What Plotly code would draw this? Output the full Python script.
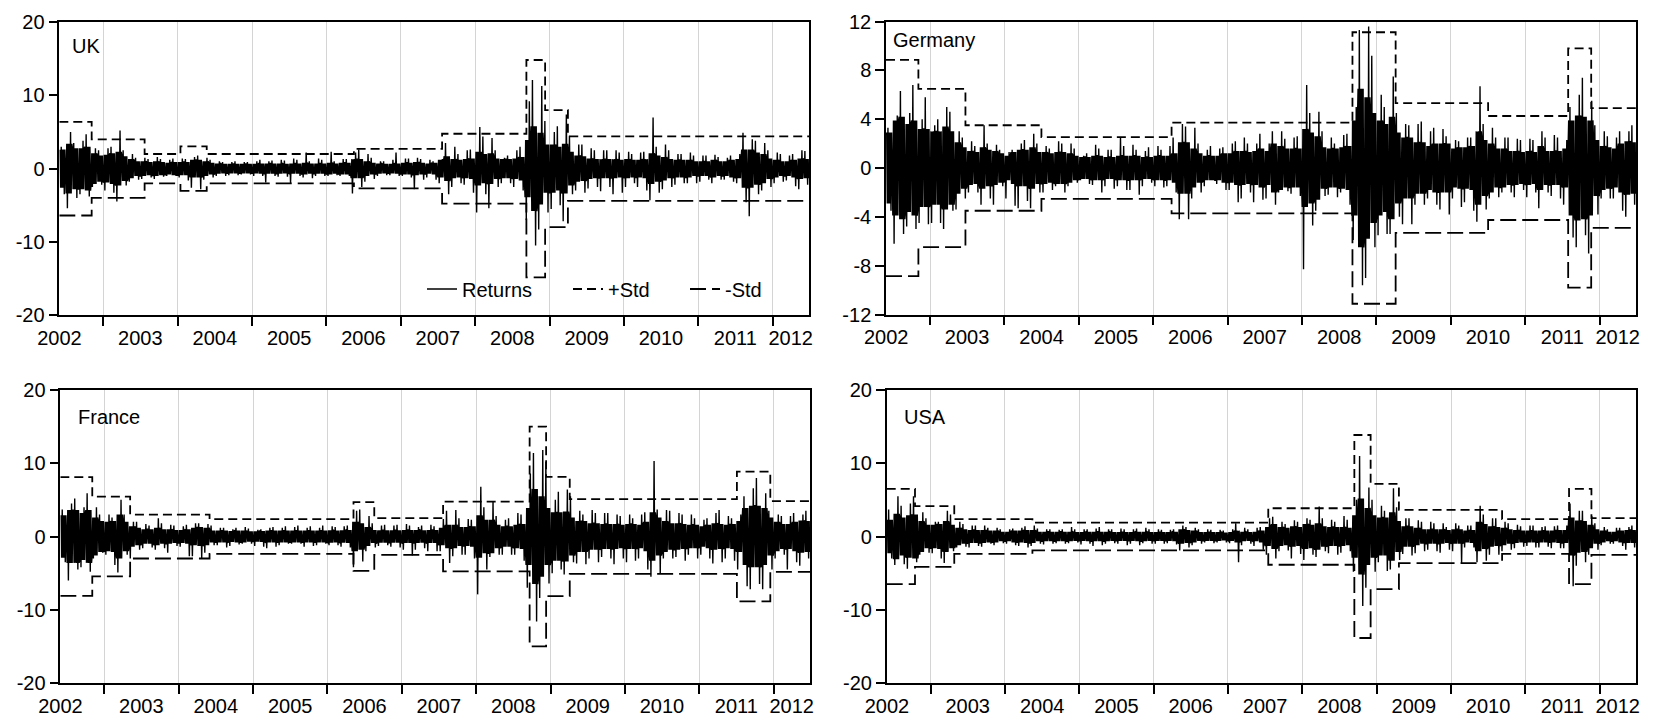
import pandas as pd
import plotly.graph_objects as go

# ---------------- data ----------------
START = "2002-05-30"
END = "2012-06-28"
MONTHS = pd.date_range("2002-06-01", "2012-06-01", freq="MS")  # Jun 2002 .. Jun 2012 (121)
YEARS = [str(y) for y in range(2002, 2013)]

# monthly extreme high / extreme low / typical daily half-range of returns (%)
UK_HI = [3.0, 5.0, 3.5, 3.8, 4.7, 2.8, 2.5,
         2.8, 3.0, 5.2, 2.5, 2.0, 1.5, 1.5, 1.3, 1.6, 1.3, 1.2, 1.4,
         1.4, 1.3, 1.6, 1.8, 1.5, 1.2, 1.0, 0.9, 0.9, 1.0, 0.9, 0.9,
         1.0, 1.2, 1.0, 1.1, 1.2, 1.1, 1.4, 1.2, 2.2, 1.0, 1.4, 1.2,
         2.3, 1.0, 1.3, 1.3, 2.2, 2.6, 2.0, 1.5, 1.0, 1.0, 1.2, 2.2,
         1.4, 1.4, 1.5, 1.3, 1.2, 1.0, 1.3, 3.5, 3.0, 2.0, 2.5, 2.6,
         5.7, 4.4, 4.2, 2.5, 1.5, 1.8, 2.5, 3.0, 9.2, 12.1, 11.3, 6.5,
         5.0, 5.8, 7.4, 4.5, 3.3, 3.3, 2.8, 2.5, 2.5, 2.5, 2.5, 2.2,
         2.3, 2.0, 2.2, 2.3, 7.0, 3.0, 3.3, 2.5, 2.0, 2.0, 2.2, 1.8,
         1.8, 1.8, 1.9, 1.6, 1.5, 1.8, 2.0, 4.9, 4.0, 3.8, 3.5, 2.5,
         2.2, 2.0, 1.8, 2.0, 2.5, 2.4]
UK_LO = [-3.5, -5.4, -4.0, -3.5, -3.8, -2.5, -2.2,
         -3.0, -3.3, -4.5, -2.3, -1.8, -1.5, -1.4, -1.2, -1.4, -1.1, -1.0, -1.0,
         -1.2, -1.6, -2.6, -2.8, -1.5, -1.2, -1.0, -1.0, -0.9, -0.9, -0.8, -0.8,
         -1.0, -1.0, -1.9, -1.0, -1.1, -1.1, -2.0, -1.0, -1.2, -1.3, -1.0, -1.0,
         -1.0, -0.9, -1.0, -1.0, -3.4, -2.5, -1.8, -1.4, -1.0, -0.9, -0.9, -1.0,
         -1.0, -1.2, -2.8, -1.5, -1.2, -1.5, -2.0, -3.5, -2.5, -2.0, -2.2, -3.3,
         -6.0, -3.5, -5.4, -2.5, -2.0, -2.0, -2.5, -3.0, -7.0, -10.5, -8.3, -6.0,
         -5.5, -5.0, -7.2, -3.5, -3.0, -3.3, -2.7, -2.5, -3.1, -2.5, -3.5, -3.3,
         -2.5, -2.0, -2.5, -3.0, -4.3, -3.3, -2.8, -2.5, -2.2, -2.0, -2.0, -2.0,
         -1.8, -1.5, -2.0, -1.5, -1.5, -1.8, -2.0, -4.6, -6.5, -3.5, -3.0, -2.5,
         -2.0, -1.8, -1.6, -2.4, -2.8, -2.2]
UK_CORE = [2.6, 3.4, 2.8, 2.8, 3.0, 2.1, 1.8,
           1.9, 2.1, 2.3, 1.7, 1.3, 1.0, 1.0, 0.9, 1.0, 0.9, 0.8, 0.9,
           0.9, 0.9, 1.2, 1.2, 1.0, 0.8, 0.7, 0.65, 0.65, 0.65, 0.65, 0.65,
           0.65, 0.7, 0.7, 0.7, 0.7, 0.65, 0.7, 0.7, 0.8, 0.7, 0.7, 0.7,
           0.8, 0.7, 0.8, 0.8, 1.3, 1.3, 1.0, 0.8, 0.7, 0.65, 0.65, 0.7,
           0.8, 0.8, 0.9, 0.8, 0.7, 0.8, 1.2, 1.7, 1.3, 1.2, 1.3, 1.4,
           2.3, 2.0, 2.1, 1.4, 1.3, 1.3, 1.4, 1.6, 3.9, 5.8, 4.9, 3.3,
           3.3, 3.0, 3.4, 2.3, 1.8, 1.7, 1.4, 1.3, 1.3, 1.3, 1.3, 1.2,
           1.3, 1.2, 1.2, 1.3, 2.1, 1.8, 1.6, 1.3, 1.2, 1.2, 1.2, 1.0,
           1.0, 1.0, 1.2, 1.0, 1.0, 1.2, 1.3, 2.6, 2.6, 2.2, 2.0, 1.4,
           1.2, 1.0, 1.0, 1.2, 1.4, 1.3]

DE_HI = [3.3, 4.3, 6.3, 4.5, 6.8, 4.0, 5.8,
         3.5, 4.0, 5.0, 4.6, 3.0, 2.5, 2.2, 1.8, 3.5, 2.0, 1.9, 1.5,
         1.3, 1.5, 2.0, 2.3, 2.8, 2.0, 1.8, 1.6, 2.2, 2.0, 2.0, 1.6,
         1.0, 1.2, 1.9, 1.6, 1.5, 1.5, 2.5, 1.8, 1.9, 1.5, 1.4, 1.7,
         1.8, 1.5, 1.8, 2.5, 3.6, 3.4, 3.3, 2.0, 1.5, 1.8, 1.6, 1.7,
         2.0, 2.2, 2.5, 2.0, 2.0, 2.8, 2.0, 3.0, 3.0, 2.4, 2.5, 2.6,
         6.8, 4.5, 4.6, 3.0, 2.5, 2.0, 2.7, 2.8, 5.0, 11.3, 11.6, 9.2,
         6.0, 5.0, 7.5, 4.5, 3.6, 3.5, 3.6, 3.8, 3.0, 3.3, 3.2, 2.6,
         2.3, 2.2, 2.5, 2.5, 6.7, 3.6, 3.3, 2.5, 2.5, 2.5, 2.4, 2.3,
         2.4, 2.3, 3.0, 2.5, 2.7, 2.5, 2.3, 5.0, 6.0, 7.4, 5.5, 3.5,
         3.0, 2.6, 2.5, 3.0, 3.0, 3.5]
DE_LO = [-3.5, -6.2, -5.4, -4.8, -5.0, -4.5, -4.6,
         -4.5, -4.5, -5.0, -3.5, -3.4, -2.5, -2.0, -2.0, -3.0, -2.5, -3.0, -1.5,
         -2.5, -3.1, -3.3, -2.7, -3.3, -2.0, -2.0, -1.8, -1.5, -2.0, -1.5, -1.2,
         -1.0, -1.3, -1.4, -2.0, -1.5, -1.7, -1.5, -1.8, -1.8, -2.2, -1.5, -1.2,
         -1.5, -1.6, -1.5, -2.0, -4.2, -4.2, -2.5, -2.0, -1.5, -1.0, -1.3, -1.8,
         -1.8, -2.8, -2.5, -2.0, -2.8, -2.6, -2.5, -3.0, -2.0, -1.9, -2.1, -2.3,
         -8.3, -4.7, -3.5, -2.3, -2.2, -2.4, -2.0, -3.0, -5.9, -9.6, -9.0, -6.5,
         -5.5, -5.4, -5.4, -4.0, -4.6, -4.6, -3.0, -3.0, -2.5, -3.0, -3.4, -3.8,
         -2.5, -3.2, -2.8, -3.5, -4.4, -3.4, -2.5, -2.4, -2.0, -2.0, -2.4, -1.8,
         -2.4, -2.0, -3.3, -2.0, -2.3, -2.5, -3.0, -5.7, -6.5, -5.5, -7.0, -3.8,
         -2.5, -2.5, -2.5, -3.5, -4.0, -3.0]
DE_CORE = [2.9, 3.9, 4.2, 3.6, 3.9, 3.2, 3.2,
           3.0, 3.0, 3.4, 3.0, 2.1, 1.7, 1.4, 1.3, 1.7, 1.5, 1.4, 1.2,
           1.0, 1.3, 1.5, 1.5, 1.7, 1.3, 1.3, 1.2, 1.3, 1.3, 1.2, 1.0,
           0.9, 0.9, 1.0, 1.0, 0.9, 0.9, 1.0, 1.0, 1.0, 1.0, 0.9, 0.9,
           1.0, 1.0, 1.0, 1.2, 2.1, 2.1, 1.6, 1.2, 1.0, 1.0, 1.0, 1.2,
           1.2, 1.4, 1.4, 1.3, 1.4, 1.6, 1.4, 2.0, 1.8, 1.6, 1.6, 1.6,
           3.2, 2.9, 2.6, 1.7, 1.6, 1.6, 1.7, 1.8, 3.9, 6.5, 5.8, 4.5,
           3.9, 3.6, 4.2, 2.9, 2.5, 2.5, 2.1, 2.1, 1.8, 2.0, 2.0, 2.0,
           1.6, 1.7, 1.7, 1.8, 3.0, 2.3, 2.0, 1.6, 1.6, 1.4, 1.4, 1.3,
           1.4, 1.3, 1.8, 1.4, 1.4, 1.4, 1.6, 3.9, 4.3, 4.2, 3.9, 2.3,
           1.8, 1.7, 1.6, 2.0, 2.2, 2.1]

FR_HI = [3.7, 4.5, 5.2, 4.0, 5.9, 4.0, 3.0,
         3.0, 2.6, 5.0, 3.0, 2.0, 2.0, 1.7, 1.5, 2.5, 1.8, 1.6, 1.5,
         1.4, 1.6, 1.8, 1.8, 1.7, 1.5, 1.2, 1.2, 1.0, 1.2, 1.3, 1.1,
         0.9, 1.0, 1.2, 1.3, 1.2, 1.4, 1.3, 1.5, 1.2, 1.4, 1.2, 1.5,
         1.4, 1.3, 1.4, 1.5, 3.5, 3.7, 2.8, 1.8, 1.5, 1.6, 1.5, 1.6,
         1.7, 1.5, 1.3, 1.5, 1.6, 1.4, 2.4, 3.5, 3.6, 2.5, 2.4, 2.3,
         6.8, 4.0, 4.8, 2.8, 2.3, 2.5, 3.2, 3.0, 8.6, 11.4, 11.8, 10.2,
         5.0, 6.1, 6.4, 5.5, 3.5, 3.0, 3.6, 3.2, 3.2, 3.2, 3.0, 2.8,
         3.0, 2.5, 3.0, 3.3, 10.3, 3.7, 3.6, 3.5, 3.2, 3.0, 3.0, 2.5,
         2.3, 2.5, 3.2, 3.6, 2.8, 2.5, 3.0, 5.5, 6.6, 8.0, 5.9, 3.5,
         3.0, 2.8, 2.8, 3.2, 3.0, 3.5]
FR_LO = [-3.5, -6.0, -4.5, -4.2, -4.8, -3.0, -2.2,
         -2.5, -3.9, -4.9, -2.5, -3.0, -1.8, -1.6, -1.5, -1.8, -1.6, -2.2, -1.3,
         -1.4, -2.7, -2.7, -3.0, -2.2, -1.2, -1.2, -1.5, -1.3, -1.1, -1.0, -1.0,
         -1.3, -1.4, -1.6, -1.4, -1.2, -1.0, -1.0, -1.0, -1.4, -1.3, -1.2, -1.0,
         -1.2, -1.2, -1.4, -1.5, -4.2, -3.4, -2.0, -1.5, -1.3, -1.2, -1.4, -1.5,
         -1.8, -2.6, -1.8, -1.6, -2.0, -2.0, -2.0, -3.6, -2.7, -2.5, -2.5, -3.0,
         -7.9, -4.5, -2.8, -2.5, -2.5, -2.5, -2.5, -3.3, -7.0, -11.6, -8.4, -6.4,
         -5.0, -4.5, -5.2, -3.5, -3.7, -3.8, -3.0, -3.5, -2.8, -3.0, -3.8, -3.0,
         -3.5, -3.3, -3.0, -4.5, -5.5, -5.0, -3.0, -3.0, -2.8, -3.3, -2.5, -3.0,
         -2.5, -3.0, -3.7, -3.5, -3.0, -3.3, -4.5, -6.8, -7.2, -6.5, -7.2, -4.5,
         -3.0, -2.5, -4.5, -3.5, -4.0, -3.0]
FR_CORE = [2.9, 3.6, 3.6, 3.2, 3.6, 2.6, 2.1,
           2.0, 2.1, 3.0, 2.0, 1.4, 1.2, 1.0, 1.0, 1.2, 1.0, 1.0, 0.9,
           0.9, 1.0, 1.2, 1.3, 1.2, 0.8, 0.8, 0.8, 0.75, 0.8, 0.8, 0.7,
           0.7, 0.75, 0.8, 0.8, 0.8, 0.8, 0.8, 0.8, 0.8, 0.8, 0.8, 0.8,
           0.85, 0.8, 0.85, 0.9, 2.0, 1.8, 1.3, 0.9, 0.85, 0.85, 0.85, 0.85,
           0.9, 0.9, 0.9, 0.85, 0.9, 0.9, 1.2, 1.6, 1.6, 1.3, 1.3, 1.4,
           2.9, 2.3, 2.3, 1.6, 1.4, 1.4, 1.6, 1.7, 3.9, 6.5, 5.5, 3.9,
           3.3, 3.3, 3.4, 2.6, 2.1, 2.1, 1.8, 1.8, 1.7, 1.7, 1.7, 1.6,
           1.7, 1.7, 1.6, 2.0, 3.3, 2.6, 2.1, 1.8, 1.8, 1.7, 1.6, 1.6,
           1.4, 1.6, 1.8, 1.7, 1.6, 1.7, 2.1, 3.9, 4.2, 4.2, 3.9, 2.6,
           2.0, 1.7, 1.7, 2.0, 2.2, 2.1]

US_HI = [3.7, 5.5, 4.2, 4.5, 5.5, 3.3, 2.5,
         2.0, 2.0, 3.5, 3.0, 2.0, 1.7, 1.5, 1.5, 1.5, 1.2, 1.2, 1.0,
         1.0, 1.1, 1.2, 1.4, 1.5, 1.1, 1.0, 1.0, 0.9, 1.0, 1.3, 1.0,
         1.0, 1.0, 1.1, 1.3, 1.0, 1.0, 1.1, 1.0, 1.0, 1.1, 1.2, 1.0,
         1.0, 0.9, 0.9, 1.0, 1.5, 1.3, 1.2, 1.0, 1.0, 0.9, 0.9, 0.8,
         1.0, 1.8, 1.2, 1.0, 1.2, 1.3, 2.5, 2.7, 2.0, 1.7, 2.2, 2.0,
         2.5, 2.3, 4.1, 2.5, 2.3, 2.0, 2.8, 2.3, 5.0, 11.0, 6.7, 5.0,
         4.2, 3.5, 6.6, 4.0, 2.5, 2.5, 2.2, 2.0, 2.0, 1.8, 1.8, 1.3,
         1.8, 1.5, 1.5, 1.5, 4.2, 3.0, 2.5, 2.5, 2.0, 1.8, 1.6, 1.4,
         1.5, 1.5, 1.3, 1.4, 1.4, 1.5, 1.5, 4.5, 3.5, 3.5, 2.8, 1.8,
         1.3, 1.0, 1.2, 1.2, 1.3, 1.5]
US_LO = [-3.0, -3.9, -3.8, -4.4, -3.5, -2.5, -2.2,
         -2.3, -3.0, -3.6, -2.0, -1.5, -1.4, -1.5, -1.3, -1.4, -1.0, -1.2, -0.9,
         -1.0, -1.2, -1.3, -1.5, -1.3, -1.0, -1.1, -1.0, -0.9, -1.0, -0.9, -0.8,
         -1.1, -1.0, -1.3, -1.2, -1.0, -0.9, -1.0, -1.2, -1.0, -1.2, -0.9, -1.0,
         -1.0, -1.0, -0.9, -1.1, -1.9, -1.5, -1.2, -1.0, -0.8, -0.9, -0.8, -0.8,
         -0.9, -3.5, -1.2, -1.0, -1.3, -1.8, -2.5, -3.0, -2.0, -1.9, -3.0, -2.4,
         -3.2, -2.5, -2.8, -2.0, -2.3, -2.5, -2.2, -2.0, -4.8, -9.5, -7.0, -4.8,
         -3.5, -4.7, -4.5, -3.2, -2.4, -2.6, -2.3, -2.0, -1.8, -2.0, -2.2, -1.8,
         -2.0, -3.6, -1.5, -1.5, -3.5, -3.3, -2.5, -2.5, -2.0, -1.8, -1.6, -1.4,
         -1.3, -1.5, -1.5, -1.4, -1.6, -1.6, -1.6, -6.8, -4.0, -3.5, -2.5, -1.8,
         -1.2, -1.0, -1.0, -1.3, -1.8, -1.5]
US_CORE = [2.3, 3.1, 2.6, 2.9, 3.0, 2.1, 1.6,
           1.6, 1.7, 2.1, 1.6, 1.2, 1.0, 0.9, 0.9, 0.9, 0.8, 0.8, 0.65,
           0.65, 0.8, 0.8, 0.9, 0.9, 0.65, 0.65, 0.65, 0.65, 0.65, 0.65, 0.6,
           0.6, 0.65, 0.65, 0.65, 0.65, 0.6, 0.6, 0.6, 0.6, 0.65, 0.65, 0.6,
           0.6, 0.6, 0.6, 0.65, 1.0, 0.9, 0.8, 0.6, 0.6, 0.6, 0.6, 0.55,
           0.6, 0.8, 0.65, 0.6, 0.65, 0.8, 1.3, 1.7, 1.3, 1.2, 1.4, 1.3,
           1.7, 1.6, 1.8, 1.4, 1.3, 1.3, 1.3, 1.2, 2.9, 5.2, 3.9, 2.9,
           2.6, 2.6, 3.3, 2.1, 1.4, 1.4, 1.2, 1.0, 1.0, 1.0, 1.0, 0.9,
           1.0, 1.0, 0.8, 0.9, 2.0, 1.7, 1.4, 1.3, 1.2, 1.0, 0.9, 0.8,
           0.8, 0.8, 0.8, 0.8, 0.8, 0.9, 0.9, 2.6, 2.2, 2.1, 1.6, 1.0,
           0.8, 0.65, 0.65, 0.8, 0.9, 0.9]

# regime standard-deviation bands: start date of each regime and level
UK_STD_START = ["2002-05-30", "2002-11-05", "2003-07-23", "2004-01-15", "2004-05-23",
                "2006-05-16", "2007-07-23", "2008-09-09", "2008-12-10", "2009-04-01"]
UK_STD = [6.4, 4.0, 2.0, 3.05, 2.0, 2.7, 4.77, 14.85, 8.0, 4.4]
DE_STD_START = ["2002-05-30", "2002-11-05", "2003-06-24", "2004-07-01", "2006-04-01",
                "2008-09-05", "2009-04-05", "2010-07-03", "2011-07-31", "2011-11-21"]
DE_STD = [8.85, 6.48, 3.5, 2.53, 3.72, 11.12, 5.32, 4.26, 9.8, 4.9]
FR_STD_START = ["2002-05-30", "2002-11-03", "2003-05-08", "2004-06-01", "2006-05-09",
                "2006-08-19", "2007-07-23", "2008-09-20", "2008-12-10", "2009-04-05",
                "2011-07-05", "2011-12-16"]
FR_STD = [8.1, 5.45, 3.0, 2.36, 4.68, 2.5, 4.77, 15.0, 8.14, 5.09, 8.86, 4.82]
US_STD_START = ["2002-05-30", "2002-10-16", "2003-04-27", "2004-05-15", "2007-07-18",
                "2008-09-13", "2008-12-02", "2009-04-20", "2010-09-09", "2011-08-04",
                "2011-11-22"]
US_STD = [6.5, 4.14, 2.38, 1.9, 3.86, 13.86, 7.18, 3.64, 2.36, 6.5, 2.5]

# ---------------- figure ----------------
FONT = "Arial, Liberation Sans, Helvetica, sans-serif"
WF, HF = 1666, 717
end_ts = pd.Timestamp(END)


def fx(p):
    return p / WF


def fy(p):
    return 1 - p / HF


def month_path(hi, lo, core):
    xs, ys = [], []
    for i, s in enumerate(MONTHS):
        nxt = min(s + pd.offsets.MonthBegin(1), end_ts)
        span = nxt - s
        c = core[i]
        if i % 2 == 0:
            vals = [c, -c, hi[i], -c, c, -c, c, lo[i], c, -c]
        else:
            vals = [-c, c, lo[i], c, -c, c, -c, hi[i], -c, c]
        for k, v in enumerate(vals):
            xs.append(s + span * ((k + 0.5) / len(vals)))
            ys.append(v)
    return xs, ys


def std_xy(starts, levels, sign):
    x = list(starts) + [END]
    y = [sign * v for v in levels] + [sign * levels[-1]]
    return x, y


panels = [
    ("UK", UK_HI, UK_LO, UK_CORE, UK_STD_START, UK_STD,
     (59.3, 809.0, 22.3, 315.0), [-20, -10, 0, 10, 20], (70, 46)),
    ("Germany", DE_HI, DE_LO, DE_CORE, DE_STD_START, DE_STD,
     (886.0, 1636.0, 21.5, 314.5), [-12, -8, -4, 0, 4, 8, 12], (891, 40)),
    ("France", FR_HI, FR_LO, FR_CORE, FR_STD_START, FR_STD,
     (60.3, 810.0, 390.0, 683.0), [-20, -10, 0, 10, 20], (76, 417)),
    ("USA", US_HI, US_LO, US_CORE, US_STD_START, US_STD,
     (886.7, 1636.0, 390.0, 683.0), [-20, -10, 0, 10, 20], (902, 417)),
]

label_pos = ["2002-05-31"] + [f"{y}-07-02" for y in range(2003, 2012)] + ["2012-03-30"]

fig = go.Figure()
layout = dict(
    width=WF, height=HF, margin=dict(l=0, r=0, t=0, b=0, pad=0, autoexpand=False),
    paper_bgcolor="white", plot_bgcolor="white",
    font=dict(family=FONT, size=20, color="black"),
    annotations=[],
)

for i, (name, hi, lo, core, sstart, slev, box, yt, lab) in enumerate(panels):
    n = "" if i == 0 else str(i + 1)
    xa, ya = "x" + n, "y" + n
    x0, x1, y0, y1 = box
    first = i == 0

    rx, ry = month_path(hi, lo, core)
    fig.add_trace(go.Scatter(x=rx, y=ry, mode="lines", name="Returns",
                             line=dict(color="black", width=1.4),
                             xaxis=xa, yaxis=ya, showlegend=first, legend="legend"))
    px_, py_ = std_xy(sstart, slev, 1)
    fig.add_trace(go.Scatter(x=px_, y=py_, mode="lines", name="+Std", line_shape="hv",
                             line=dict(color="black", width=1.8, dash="9px,5px"),
                             xaxis=xa, yaxis=ya, showlegend=first, legend="legend2"))
    mx_, my_ = std_xy(sstart, slev, -1)
    fig.add_trace(go.Scatter(x=mx_, y=my_, mode="lines", name="-Std", line_shape="hv",
                             line=dict(color="black", width=1.8, dash="16px,6px"),
                             xaxis=xa, yaxis=ya, showlegend=first, legend="legend3"))

    layout["xaxis" + n] = dict(
        type="date", range=[START, END], domain=[fx(x0), fx(x1)], anchor=ya,
        automargin=False,
        tickmode="array", tickvals=label_pos, ticktext=YEARS,
        ticks="outside", ticklen=4, tickcolor="rgba(0,0,0,0)",
        showgrid=False, zeroline=False,
        showline=True, linecolor="black", linewidth=1.5, mirror=True,
        tickfont=dict(size=20, family=FONT, color="black"),
        minor=dict(tickmode="linear", tick0="2003-01-01", dtick="M12",
                   ticks="outside", ticklen=9, tickwidth=1.5, tickcolor="black",
                   showgrid=True, gridcolor="#d4d4d4", gridwidth=1.3),
    )
    layout["yaxis" + n] = dict(
        range=[yt[0], yt[-1]], domain=[fy(y1), fy(y0)], anchor=xa,
        automargin=False,
        tickmode="array", tickvals=yt, ticktext=[str(v) for v in yt],
        ticks="outside", ticklen=9, tickwidth=1.5, tickcolor="black",
        showgrid=False, zeroline=False,
        showline=True, linecolor="black", linewidth=1.5, mirror=True,
        tickfont=dict(size=20, family=FONT, color="black"),
    )
    layout["annotations"].append(dict(
        text=name, xref="paper", yref="paper", x=fx(lab[0]), y=fy(lab[1]),
        xanchor="left", yanchor="middle", showarrow=False,
        font=dict(size=20, family=FONT, color="black")))

leg_common = dict(orientation="h", yanchor="middle", xanchor="left", y=fy(289),
                  bgcolor="rgba(0,0,0,0)", font=dict(size=20, family=FONT, color="black"),
                  borderwidth=0)
layout["legend"] = dict(leg_common, x=fx(422))
layout["legend2"] = dict(leg_common, x=fx(568))
layout["legend3"] = dict(leg_common, x=fx(685))

fig.update_layout(**layout)
# remove the default page margin so the 1666x717 figure fills the window exactly
fig.write_html("out.html",
               config={"displayModeBar": False},
               post_script="document.body.style.margin='0px';"
                           "document.body.style.overflow='hidden';")
